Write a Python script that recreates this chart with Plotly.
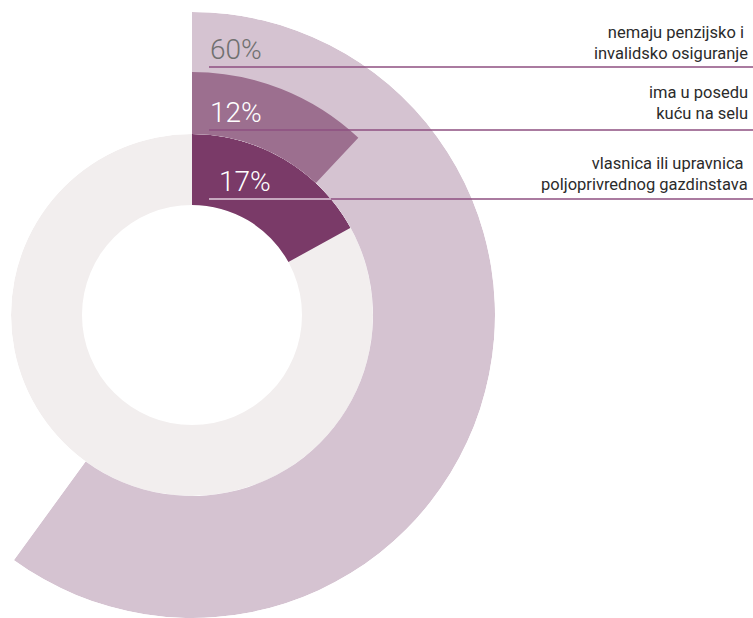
import math
import plotly.graph_objects as go

# data
percent_values = [17, 12, 60]
percent_labels = ["17%", "12%", "60%"]
category_labels = [
    "vlasnica ili upravnica <br>poljoprivrednog gazdinstava",
    "ima u posedu<br>kuću na selu",
    "nemaju penzijsko i <br>invalidsko osiguranje",
]

W, H = 753, 618
CX, CY = 192, 315
R_HOLE, R1, R2, R3 = 110, 181, 243, 303
ring_colors = ["#7a3a68", "#9c6f8f", "#d5c3d1"]
track_color = "#f2eeee"
line_color = "#8e4f80"


def px_x(x):
    return x / W


def px_y(y):
    return 1 - y / H


fig = go.Figure()

# inner ring: gray track + first value (full circle subplot)
fig.add_trace(go.Barpolar(r=[R1 - R_HOLE], base=[R_HOLE], theta=[180], width=[360],
                          marker_color=track_color, marker_line_width=0,
                          hoverinfo="skip", subplot="polar"))
fig.add_trace(go.Barpolar(r=[R1 - R_HOLE], base=[R_HOLE],
                          theta=[percent_values[0] * 3.6 / 2], width=[percent_values[0] * 3.6],
                          marker_color=ring_colors[0], marker_line_width=0,
                          name=percent_labels[0], subplot="polar"))

# outer arcs (sector subplot so it fits in the page); the big one sits under the 12% arc
fig.add_trace(go.Barpolar(r=[R3 - R1], base=[R1],
                          theta=[percent_values[2] * 3.6 / 2], width=[percent_values[2] * 3.6],
                          marker_color=ring_colors[2], marker_line_width=0,
                          name=percent_labels[2], subplot="polar2"))
fig.add_trace(go.Barpolar(r=[R2 - R1], base=[R1],
                          theta=[percent_values[1] * 3.6 / 2], width=[percent_values[1] * 3.6],
                          marker_color=ring_colors[1], marker_line_width=0,
                          name=percent_labels[1], subplot="polar2"))

sector_start = 90 - percent_values[2] * 3.6
x_left = CX + R3 * math.cos(math.radians(sector_start))

fig.update_layout(
    width=W, height=H,
    margin=dict(l=0, r=0, t=0, b=0),
    paper_bgcolor="white",
    showlegend=False,
    font_family="Roboto",
    polar=dict(
        domain=dict(x=[px_x(CX - R1), px_x(CX + R1)], y=[px_y(CY + R1), px_y(CY - R1)]),
        bgcolor="rgba(0,0,0,0)",
        radialaxis=dict(range=[0, R1], visible=False),
        angularaxis=dict(rotation=90, direction="clockwise", visible=False),
    ),
    polar2=dict(
        domain=dict(x=[px_x(x_left), px_x(CX + R3)], y=[px_y(CY + R3), px_y(CY - R3)]),
        sector=[sector_start, 90],
        bgcolor="rgba(0,0,0,0)",
        radialaxis=dict(range=[0, R3], visible=False),
        angularaxis=dict(rotation=90, direction="clockwise", visible=False),
    ),
)

# leader lines and labels
line_y = [199, 130, 67]
pct_pos = [(217, 181), (208, 112), (208, 49)]
pct_colors = ["white", "white", "#707070"]
label_y = [174, 103, 43]

shapes = []
for i in range(3):
    shapes.append(dict(type="line", xref="paper", yref="paper",
                       x0=px_x(209), x1=1, y0=px_y(line_y[i]), y1=px_y(line_y[i]),
                       line=dict(color=line_color, width=1.5), layer="above"))
# the first line reads light over the dark arc
dy = CY - line_y[0]
x_end = CX + math.sqrt(R1 ** 2 - dy ** 2)
shapes.append(dict(type="line", xref="paper", yref="paper",
                   x0=px_x(209), x1=px_x(x_end), y0=px_y(line_y[0]), y1=px_y(line_y[0]),
                   line=dict(color="#dcc9d7", width=1.5), layer="above"))
fig.update_layout(shapes=shapes)

for i in range(3):
    fig.add_annotation(text=percent_labels[i], xref="paper", yref="paper",
                       x=px_x(pct_pos[i][0]), y=px_y(pct_pos[i][1]),
                       xanchor="left", yanchor="middle", showarrow=False,
                       font=dict(family="Roboto", size=28, color=pct_colors[i], weight=300))
    fig.add_annotation(text=category_labels[i], xref="paper", yref="paper",
                       x=px_x(750), y=px_y(label_y[i]),
                       xanchor="right", yanchor="middle", align="right", showarrow=False,
                       font=dict(family="Roboto", size=16.5, color="#2b2b2b"))

fig.write_html("out.html", config={"displayModeBar": False},
               post_script="document.body.style.margin='0';")
